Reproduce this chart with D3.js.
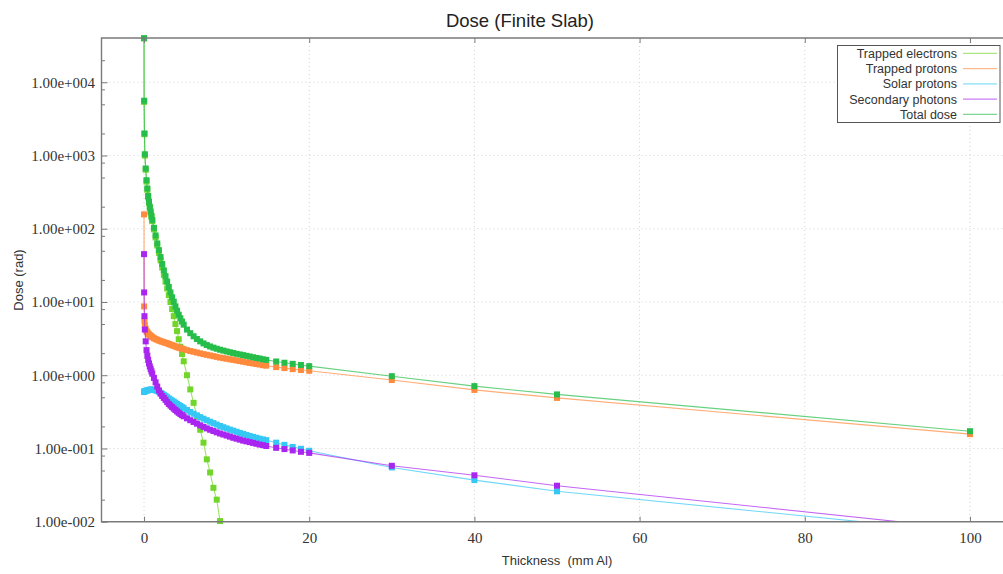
<!DOCTYPE html>
<html>
<head>
<meta charset="utf-8">
<script src="https://cdn.jsdelivr.net/npm/d3@7"></script>
<style>
  body { margin: 0; background: #fff; }
  .tickLabel text { font-family: "Liberation Serif", serif; font-size: 15px; fill: #333; }
</style>
</head>
<body>
<div id="chart"></div>
<script>
// Thickness (mm Al)
var thickness = [0, 0.01, 0.05, 0.1, 0.2, 0.3, 0.4, 0.5, 0.6, 0.7, 0.8, 0.9, 1.0,
  1.2, 1.4, 1.6, 1.8, 2.0, 2.2, 2.4, 2.6, 2.8, 3.0, 3.2, 3.4, 3.6, 3.8, 4.0, 4.2, 4.4, 4.6, 4.8,
  5.2, 5.6, 6.0, 6.4, 6.8, 7.2, 7.6, 8.0, 8.4, 8.8, 9.2, 9.6, 10.0, 10.4, 10.8, 11.2, 11.6, 12.0,
  12.4, 12.8, 13.2, 13.6, 14.0, 14.4, 14.8, 16, 17, 18, 19, 20, 30, 40, 50, 100];

// Dose (rad) per source
var trappedElectrons = [39800, 5400, 1950, 1000, 640, 440, 340, 268, 225, 192, 165, 144, 127,
  98, 76, 59, 47, 37, 29.5, 23.5, 19, 15.3, 12.4, 10, 8.0, 6.4, 5.0, 4.0, 3.1, 2.45, 1.95, 1.55,
  1.0, 0.64, 0.42, 0.276, 0.18, 0.12, 0.071, 0.047, 0.029, 0.02, 0.0102, 0.0062, 0.0035, null, null, null, null, null,
  null, null, null, null, null, null, null, null, null, null, null, null, null, null, null, null];

var trappedProtons = [157, 8.7, 5.6, 4.8, 4.3, 4.0, 3.85, 3.7, 3.6, 3.52, 3.45, 3.37, 3.3,
  3.2, 3.12, 3.05, 2.98, 2.92, 2.87, 2.82, 2.77, 2.73, 2.67, 2.62, 2.57, 2.52, 2.47, 2.42, 2.38, 2.34, 2.3, 2.27,
  2.2, 2.14, 2.09, 2.04, 1.99, 1.94, 1.9, 1.86, 1.82, 1.78, 1.74, 1.71, 1.68, 1.65, 1.62, 1.59, 1.56, 1.53,
  1.5, 1.47, 1.45, 1.42, 1.4, 1.37, 1.35, 1.29, 1.25, 1.21, 1.18, 1.15, 0.86, 0.63, 0.49, 0.157];

var solarProtons = [0.59, 0.595, 0.6, 0.605, 0.61, 0.615, 0.62, 0.625, 0.63, 0.632, 0.635, 0.636, 0.635,
  0.63, 0.622, 0.61, 0.593, 0.575, 0.557, 0.54, 0.52, 0.5, 0.482, 0.465, 0.45, 0.435, 0.42, 0.405, 0.392, 0.38, 0.367, 0.355,
  0.335, 0.315, 0.298, 0.283, 0.268, 0.255, 0.243, 0.232, 0.222, 0.212, 0.203, 0.195, 0.188, 0.181, 0.175, 0.169, 0.163, 0.158,
  0.153, 0.148, 0.144, 0.14, 0.136, 0.133, 0.13, 0.12, 0.112, 0.105, 0.099, 0.093, 0.055, 0.037, 0.026, 0.0071];

var secondaryPhotons = [45, 13.5, 6.4, 4.2, 2.9, 2.2, 1.85, 1.62, 1.45, 1.32, 1.22, 1.13, 1.05,
  0.92, 0.8, 0.7, 0.62, 0.56, 0.52, 0.49, 0.46, 0.43, 0.405, 0.385, 0.367, 0.35, 0.335, 0.32, 0.307, 0.295, 0.285, 0.275,
  0.258, 0.243, 0.23, 0.218, 0.207, 0.197, 0.188, 0.18, 0.173, 0.166, 0.16, 0.155, 0.15, 0.145, 0.14, 0.136, 0.132, 0.128,
  0.125, 0.122, 0.119, 0.116, 0.113, 0.111, 0.108, 0.102, 0.098, 0.094, 0.09, 0.087, 0.058, 0.043, 0.031, 0.0079];

var totalDose = [40000, 5600, 2000, 1040, 665, 460, 355, 280, 235, 200, 172, 150, 132,
  103, 81, 63, 51, 41, 33, 27, 22.5, 19, 16, 13.5, 11.6, 10.1, 8.7, 7.6, 6.7, 6.0, 5.4, 4.9,
  4.2, 3.75, 3.4, 3.12, 2.9, 2.72, 2.58, 2.47, 2.38, 2.3, 2.23, 2.17, 2.11, 2.06, 2.01, 1.96, 1.92, 1.88,
  1.84, 1.8, 1.76, 1.72, 1.69, 1.65, 1.62, 1.54, 1.48, 1.43, 1.38, 1.33, 0.97, 0.71, 0.547, 0.172];

var seriesNames = ["Trapped electrons", "Trapped protons", "Solar protons", "Secondary photons", "Total dose"];
var seriesColors = ["#72d62a", "#ff8a3d", "#35c8f5", "#a925f0", "#27bd4a"];

var xTicks = [0, 20, 40, 60, 80, 100];
var yTicks = [1e-2, 1e-1, 1e0, 1e1, 1e2, 1e3, 1e4];

var svgWidth = 1003;
var svgHeight = 574;

var margin = {
  top: 38,
  right: 0,
  bottom: 52.3,
  left: 101.5
};

var width = svgWidth - margin.left - margin.right;
var height = svgHeight - margin.top - margin.bottom;

var svg = d3.select("#chart")
  .append("svg")
  .attr("width", svgWidth)
  .attr("height", svgHeight);

var chartGroup = svg.append("g")
  .attr("transform", `translate(${margin.left}, ${margin.top})`);

// scales
var xScale = d3.scaleLinear()
  .domain([-5.15, 104])
  .range([0, width]);

var yScale = d3.scaleLog()
  .domain([0.01, 40200])
  .range([height, 0]);

// gridlines
chartGroup.selectAll(".ygrid").data(yTicks.slice(1)).enter()
  .append("line")
  .attr("x1", 0).attr("x2", width)
  .attr("y1", d => yScale(d)).attr("y2", d => yScale(d))
  .attr("stroke", "#d4d4d4")
  .attr("stroke-dasharray", "1,3");

chartGroup.selectAll(".xgrid").data(xTicks).enter()
  .append("line")
  .attr("x1", d => xScale(d)).attr("x2", d => xScale(d))
  .attr("y1", 0).attr("y2", height)
  .attr("stroke", "#d4d4d4")
  .attr("stroke-dasharray", "1,3");

// minor y ticks at 2, 5, 8 of each decade
var minorTicks = [];
yTicks.forEach(function(t) {
  [2, 5, 8].forEach(function(m) {
    if (t * m <= yScale.domain()[1]) minorTicks.push(t * m);
  });
});

function expFormat(d) {
  var e = Math.round(Math.log10(d));
  var s = e < 0 ? "-" : "+";
  return "1.00e" + s + String(Math.abs(e)).padStart(3, "0");
}

var leftAxis = d3.axisLeft(yScale)
  .tickValues(yTicks)
  .tickFormat(expFormat)
  .tickSize(-6)
  .tickPadding(6.5);

var leftMinor = d3.axisLeft(yScale)
  .tickValues(minorTicks)
  .tickFormat("")
  .tickSize(-3.5);

var bottomAxis = d3.axisBottom(xScale)
  .tickValues(xTicks)
  .tickFormat(d3.format("d"))
  .tickSize(-5)
  .tickPadding(10.5);

var topAxis = d3.axisTop(xScale)
  .tickValues(xTicks)
  .tickFormat("")
  .tickSize(-5);

// lines, clipped to the plot area
chartGroup.append("clipPath")
  .attr("id", "plotClip")
  .append("rect")
  .attr("width", width)
  .attr("height", height);

var series = [trappedElectrons, trappedProtons, solarProtons, secondaryPhotons, totalDose].map(function(vals, i) {
  return {
    name: seriesNames[i],
    color: seriesColors[i],
    points: thickness.map(function(t, j) { return {x: t, y: vals[j]}; })
  };
});

var line = d3.line()
  .defined(d => d.y != null)
  .x(d => xScale(d.x))
  .y(d => yScale(d.y));

var seriesGroup = chartGroup.append("g");

series.forEach(function(s) {
  seriesGroup.append("path")
    .datum(s.points)
    .attr("clip-path", "url(#plotClip)")
    .attr("d", line)
    .attr("fill", "none")
    .attr("stroke", s.color)
    .attr("stroke-opacity", 0.7)
    .attr("stroke-width", 1.1);

  seriesGroup.selectAll(null)
    .data(s.points.filter(d => d.y != null && d.y >= 0.0099 && d.y <= 41000))
    .enter()
    .append("rect")
    .attr("x", d => xScale(d.x) - 3)
    .attr("y", d => yScale(d.y) - 3)
    .attr("width", 6)
    .attr("height", 6)
    .attr("fill", s.color);
});

// axes + frame
var axisColor = "#7a7a7a";

chartGroup.append("g").attr("class", "tickLabel").call(leftAxis);
chartGroup.append("g").call(leftMinor);
chartGroup.append("g")
  .attr("class", "tickLabel")
  .attr("transform", `translate(0, ${height})`)
  .call(bottomAxis);
chartGroup.append("g").call(topAxis);

chartGroup.selectAll(".domain").remove();
chartGroup.selectAll(".tick line").attr("stroke", axisColor);

chartGroup.append("path")
  .attr("d", `M${width + 5},0H0V${height}H${width + 5}`)
  .attr("fill", "none")
  .attr("stroke", axisColor)
  .attr("stroke-width", 1.4);

// title
svg.append("text")
  .attr("x", 520)
  .attr("y", 26.5)
  .attr("text-anchor", "middle")
  .attr("font-family", "Liberation Sans, Arial, sans-serif")
  .attr("font-size", "18.5px")
  .attr("fill", "#222")
  .text("Dose (Finite Slab)");

// axis labels
svg.append("text")
  .attr("transform", "rotate(-90)")
  .attr("x", -280)
  .attr("y", 22.5)
  .attr("text-anchor", "middle")
  .attr("font-family", "Liberation Sans, Arial, sans-serif")
  .attr("font-size", "13px")
  .attr("fill", "#333")
  .text("Dose (rad)");

svg.append("text")
  .attr("x", 557)
  .attr("y", 564.5)
  .attr("text-anchor", "middle")
  .attr("font-family", "Liberation Sans, Arial, sans-serif")
  .attr("font-size", "13px")
  .attr("fill", "#333")
  .style("white-space", "pre")
  .text("Thickness  (mm Al)");

// legend
var legend = svg.append("g");

legend.append("rect")
  .attr("x", 837.5)
  .attr("y", 45.5)
  .attr("width", 162.5)
  .attr("height", 77)
  .attr("fill", "#fff")
  .attr("stroke", "#555");

series.forEach(function(s, i) {
  var cy = 53.3 + i * 15.25;
  legend.append("text")
    .attr("x", 957)
    .attr("y", cy + 4.5)
    .attr("text-anchor", "end")
    .attr("font-family", "Liberation Sans, Arial, sans-serif")
    .attr("font-size", "12.5px")
    .attr("fill", "#333")
    .text(s.name);
  legend.append("line")
    .attr("x1", 963).attr("x2", 997)
    .attr("y1", cy).attr("y2", cy)
    .attr("stroke", s.color)
    .attr("stroke-opacity", 0.6)
    .attr("stroke-width", 1.2);
});
</script>
</body>
</html>
